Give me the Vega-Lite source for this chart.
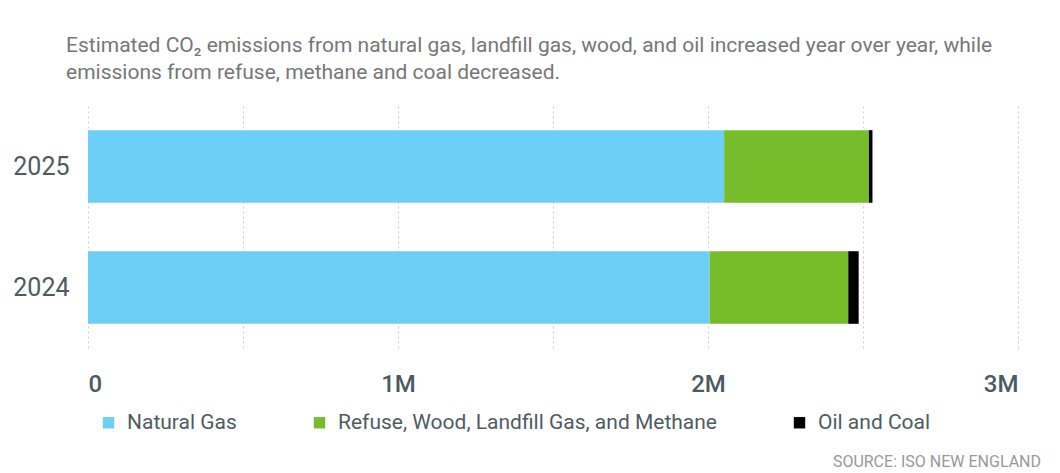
{
  "$schema": "https://vega.github.io/schema/vega-lite/v6.json",
  "background": "white",
  "padding": {"left": 12, "top": 35, "right": 5, "bottom": 2},
  "vconcat": [
    {
      "width": 930,
      "height": 242,
      "title": {
        "text": ["Estimated CO₂ emissions from natural gas, landfill gas, wood, and oil increased year over year, while", "emissions from refuse, methane and coal decreased."],
        "anchor": "start",
        "frame": "group",
        "dx": -22,
        "font": "Roboto",
        "fontSize": 21,
        "fontWeight": "normal",
        "color": "#777777",
        "lineHeight": 27,
        "offset": 23
      },
      "data": {
        "values": [
          {"year": "2025", "source": "Natural Gas", "order": 1, "emissions": 2052000},
          {"year": "2025", "source": "Refuse, Wood, Landfill Gas, and Methane", "order": 2, "emissions": 467000},
          {"year": "2025", "source": "Oil and Coal", "order": 3, "emissions": 11500},
          {"year": "2024", "source": "Natural Gas", "order": 1, "emissions": 2005500},
          {"year": "2024", "source": "Refuse, Wood, Landfill Gas, and Methane", "order": 2, "emissions": 447000},
          {"year": "2024", "source": "Oil and Coal", "order": 3, "emissions": 33500}
        ]
      },
      "mark": {"type": "bar"},
      "encoding": {
        "y": {
          "field": "year",
          "type": "nominal",
          "sort": "descending",
          "scale": {"paddingInner": 0.4, "paddingOuter": 0.2},
          "axis": {
            "title": null,
            "domain": false,
            "ticks": false,
            "labelFont": "Roboto",
            "labelFontSize": 25,
            "labelColor": "#505b61",
            "labelPadding": 19
          }
        },
        "x": {
          "field": "emissions",
          "type": "quantitative",
          "stack": "zero",
          "scale": {"domain": [0, 3000000], "nice": false},
          "axis": {
            "title": null,
            "values": [0, 500000, 1000000, 1500000, 2000000, 2500000, 3000000],
            "labelExpr": "datum.value == 0 ? '0' : (datum.value % 1000000 == 0 ? (datum.value / 1000000) + 'M' : '')",
            "domain": false,
            "ticks": false,
            "grid": true,
            "gridColor": "#cccccc",
            "gridDash": [2, 3],
            "gridWidth": 1,
            "labelFont": "Roboto",
            "labelFontSize": 24,
            "labelFontWeight": 500,
            "labelColor": "#4e5a62",
            "labelPadding": 24,
            "labelOverlap": false
          }
        },
        "color": {
          "field": "source",
          "type": "nominal",
          "scale": {
            "domain": ["Natural Gas", "Refuse, Wood, Landfill Gas, and Methane", "Oil and Coal"],
            "range": ["#6dcff6", "#77bc2a", "#000000"]
          },
          "legend": {
            "title": null,
            "orient": "bottom",
            "direction": "horizontal",
            "symbolType": "square",
            "symbolSize": 130,
            "symbolStrokeWidth": 0,
            "labelFont": "Roboto",
            "labelFontSize": 21,
            "labelColor": "#505b61",
            "labelOffset": 8,
            "columnPadding": 72,
            "labelLimit": 600,
            "padding": 10,
            "offset": 6
          }
        },
        "order": {"field": "order", "type": "quantitative"}
      }
    }
  ],
  "title": {
    "text": "SOURCE: ISO NEW ENGLAND",
    "orient": "bottom",
    "anchor": "end",
    "dx": 23,
    "font": "Roboto",
    "fontSize": 16,
    "fontWeight": "normal",
    "color": "#999999",
    "offset": 11
  },
  "config": {
    "view": {"stroke": null},
    "concat": {"spacing": 0}
  }
}
